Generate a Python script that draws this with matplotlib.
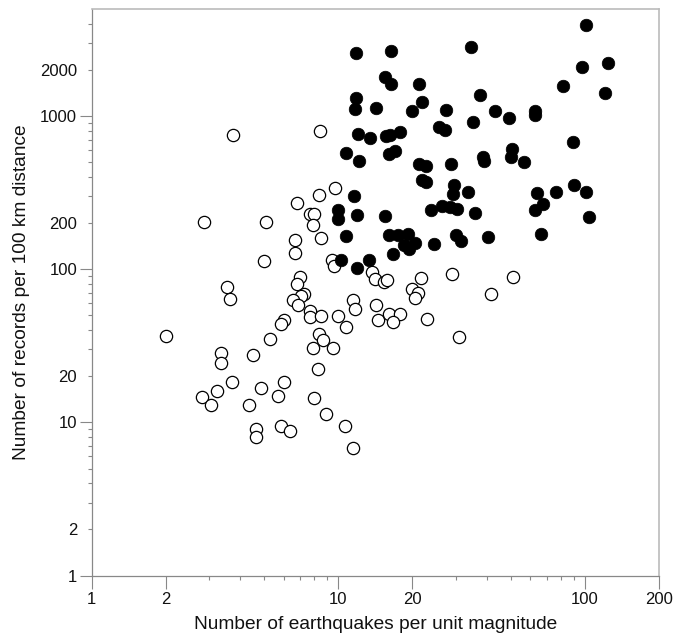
import numpy as np
import matplotlib
matplotlib.use("Agg")
import matplotlib.pyplot as plt
from matplotlib.ticker import FixedLocator, FixedFormatter, NullFormatter

plt.rcParams['font.family'] = ['Liberation Sans', 'DejaVu Sans']

# open circles
open_eq = [3.74, 8.46, 9.70, 8.38, 6.79, 7.66, 8.00, 7.90, 2.855, 5.09,
           6.70, 8.49, 6.68, 5.00, 9.41, 9.59, 13.7, 14.1, 7.00, 6.79,
           3.54, 3.64, 7.27, 7.09, 6.57, 6.89, 7.70, 7.66, 8.49, 11.45,
           11.67, 9.98, 10.7, 14.2, 14.5, 6.01, 5.88, 5.29, 2.00, 3.33,
           3.33, 4.52, 8.36, 8.65, 7.93, 9.55, 8.31, 3.70, 3.21, 2.80,
           3.04, 4.88, 6.04, 5.70, 4.35, 7.95, 8.92, 4.65, 4.64, 5.88,
           6.39, 10.6, 11.45, 15.3, 15.8, 21.6, 28.8, 51.0, 20.0, 21.1,
           20.4, 41.8, 16.0, 17.8, 16.7, 22.9, 31.0]
open_rec = [756, 803, 338, 307, 269, 231, 231, 195, 203, 204,
            155, 161, 127, 113, 115, 105, 96.0, 85.7, 89.6, 79.8,
            77.1, 63.7, 69.4, 66.7, 62.8, 58.2, 53.5, 48.6, 49.4, 62.8,
            54.8, 49.4, 42.0, 58.0, 46.3, 46.3, 43.8, 35.1, 36.6, 28.2,
            24.4, 27.6, 37.5, 34.4, 30.7, 30.7, 22.3, 18.4, 16.0, 14.6,
            13.0, 16.7, 18.3, 14.8, 13.0, 14.5, 11.4, 9.08, 7.98, 9.50,
            8.74, 9.50, 6.80, 82.3, 84.8, 88.3, 92.8, 89.1, 74.4, 70.0,
            64.7, 68.7, 51.4, 50.9, 45.1, 47.0, 36.2]

# filled circles
fill_eq = [11.8, 11.8, 11.7, 14.2, 12.0, 13.5, 10.7, 12.1, 11.6, 9.98,
           11.9, 9.98, 10.7, 10.3, 13.3, 11.9, 101.5, 16.4, 34.7, 97.8,
           124, 15.5, 16.4, 21.3, 81.4, 121, 37.5, 21.9, 20.0, 27.4,
           43.3, 49.4, 62.9, 62.9, 35.1, 15.6, 16.2, 17.8, 25.7, 27.2,
           89.9, 16.1, 17.0, 21.3, 22.7, 28.7, 38.7, 39.0, 50.7, 50.2,
           56.6, 21.9, 22.6, 29.6, 29.3, 33.5, 15.4, 23.7, 26.3, 28.4,
           30.3, 35.9, 64.1, 76.3, 90.2, 101, 67.9, 62.7, 104, 16.0,
           17.5, 19.1, 18.5, 19.4, 20.4, 24.5, 30.0, 31.5, 40.3, 66.3,
           16.6]
fill_rec = [2591, 1305, 1111, 1134, 760, 715, 577, 509, 299, 245,
            226, 213, 165, 115, 114.5, 102.6, 3947, 2671, 2806, 2078,
            2217, 1797, 1617, 1627, 1569, 1421, 1379, 1241, 1078, 1101,
            1073, 976, 1085, 1011, 914, 737, 756, 783, 844, 815,
            677, 563, 591, 489, 475, 489, 540, 509, 609, 540,
            499, 381, 369, 353, 308, 318, 223, 243, 258, 255,
            249, 234, 315, 319, 353, 319, 265, 245, 218, 167,
            168, 171, 143, 136, 148, 147, 167, 152, 162, 170,
            125]

x_major = [1, 2, 10, 20, 100, 200]
x_labels = ['1', '2', '10', '20', '100', '200']
y_major = [1, 10, 100, 1000]
y_labels = ['1', '10', '100', '1000']
y_minor_lab = [2, 20, 200, 2000]

fig = plt.figure(figsize=(6.87, 6.33), dpi=100)
ax = fig.add_axes([0.1335, 0.0907, 0.8258, 0.8951])

ax.scatter(open_eq, open_rec, s=78, facecolors='white', edgecolors='black',
           linewidths=0.9, zorder=2)
ax.scatter(fill_eq, fill_rec, s=82, facecolors='black', edgecolors='black',
           linewidths=0.5, zorder=3)

ax.set_xscale('log')
ax.set_yscale('log')
ax.set_xlim(1, 200)
ax.set_ylim(1, 5000)

# x ticks: labelled ones long, the rest short
ax.xaxis.set_major_locator(FixedLocator(x_major))
ax.xaxis.set_major_formatter(FixedFormatter(x_labels))
x_minor = [m * d for d in (1, 10, 100) for m in range(3, 10) if m * d < 200]
ax.xaxis.set_minor_locator(FixedLocator(x_minor))
ax.xaxis.set_minor_formatter(NullFormatter())

# y ticks: decades long, 2x labels sit on short ticks
ax.yaxis.set_major_locator(FixedLocator(y_major))
ax.yaxis.set_major_formatter(FixedFormatter(y_labels))
y_minor = [m * d for d in (1, 10, 100, 1000) for m in range(2, 10) if m * d < 5000]
ax.yaxis.set_minor_locator(FixedLocator(y_minor))
ax.yaxis.set_minor_formatter(FixedFormatter(
    [str(v) if v in y_minor_lab else '' for v in y_minor]))

ax.tick_params(which='major', direction='out', length=9, width=0.8,
               color='#888888', labelsize=12, labelcolor='#111111', pad=1.5)
ax.tick_params(which='minor', direction='out', length=3, width=0.8,
               color='#888888', labelsize=12, labelcolor='#111111', pad=3)
ax.tick_params(axis='y', which='minor', pad=7.5)
ax.tick_params(axis='x', which='major', pad=3)

for side in ('left', 'bottom'):
    ax.spines[side].set_color('#888888')
    ax.spines[side].set_linewidth(0.9)
for side in ('top', 'right'):
    ax.spines[side].set_color('#bbbbbb')
    ax.spines[side].set_linewidth(1.2)

ax.set_xlabel('Number of earthquakes per unit magnitude', fontsize=13.8,
              color='#111111', labelpad=6)
ax.set_ylabel('Number of records per 100 km distance', fontsize=13.8,
              color='#111111', labelpad=7)

fig.savefig('out.png', dpi=100, facecolor='white')
